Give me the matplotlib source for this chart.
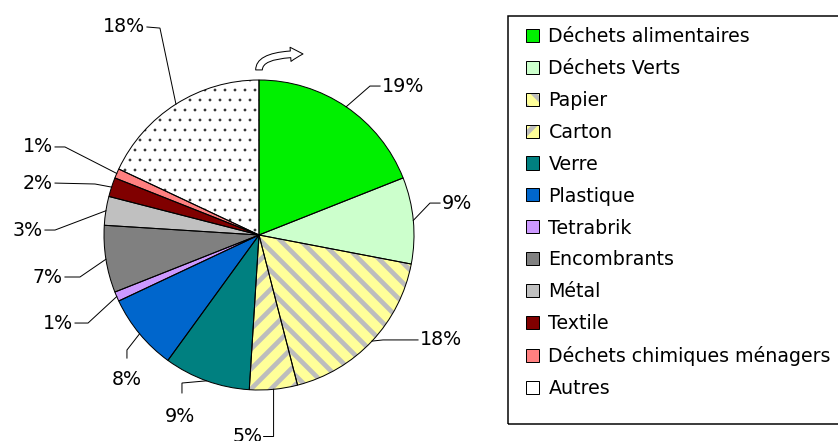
import matplotlib
matplotlib.use("Agg")
import matplotlib.pyplot as plt
import matplotlib.patches as mpatches
import numpy as np

# waste composition (%), clockwise from 12 o'clock
categories = ["Déchets alimentaires", "Déchets Verts", "Papier", "Carton", "Verre",
              "Plastique", "Tetrabrik", "Encombrants", "Métal", "Textile",
              "Déchets chimiques ménagers", "Autres"]
shares = [19, 9, 18, 5, 9, 8, 1, 7, 3, 2, 1, 18]
pct_labels = ["%d%%" % v for v in shares]

fills = ["#00f000", "#ccffcc", "#ffff99", "#ffff99", "#008080", "#0066cc",
         "#cc99ff", "#808080", "#c0c0c0", "#800000", "#ff8080", "#ffffff"]
hatches = [None, None, "\\", "/", None, None, None, None, None, None, None, "."]
hatch_cols = [None, None, "#bdbdbd", "#bdbdbd", None, None, None, None, None, None, None, "#2a2a2a"]
hatch_lws = [None, None, 5.6, 5.6, None, None, None, None, None, None, None, 0.9]

# leader line layout in pie-radius units: (elbow, line end, text pos, ha)
label_layout = [
  ((0.716, 0.961), (0.781, 0.961), (0.79, 0.961), "left"),
  ((1.103, 0.206), (1.168, 0.206), (1.18, 0.206), "left"),
  ((0.80, -0.677), (1.026, -0.677), (1.04, -0.677), "left"),
  ((0.094, -1.30), (0.03, -1.30), (0.02, -1.30), "right"),
  ((-0.497, -0.955), (-0.497, -1.019), (-0.51, -1.174), "center"),
  ((-0.852, -0.742), (-0.852, -0.794), (-0.852, -0.935), "center"),
  ((-1.103, -0.568), (-1.187, -0.568), (-1.20, -0.568), "right"),
  ((-1.155, -0.271), (-1.252, -0.271), (-1.265, -0.271), "right"),
  ((-1.316, 0.032), (-1.381, 0.032), (-1.395, 0.032), "right"),
  ((-1.058, 0.329), (-1.316, 0.335), (-1.33, 0.335), "right"),
  ((-1.252, 0.568), (-1.316, 0.568), (-1.33, 0.568), "right"),
  ((-0.639, 1.335), (-0.723, 1.342), (-0.737, 1.342), "right"),
]

DPI = 60
W, H = 838, 441
CX, CY, R = 259, 235, 155   # pie centre / radius in pixels

plt.rcParams["font.family"] = "DejaVu Sans"
plt.rcParams["hatch.linewidth"] = 5.6

fig = plt.figure(figsize=(W / DPI, H / DPI), dpi=DPI)
ax = fig.add_axes([0, 0, 1, 1])

wedges, _ = ax.pie(shares, colors=fills, startangle=90, counterclock=False,
                   wedgeprops=dict(linewidth=0))
for w, h, hc, hlw in zip(wedges, hatches, hatch_cols, hatch_lws):
  if h is not None:
    w.set_edgecolor(hc)
    w.set_hatch(h)
    if hasattr(w, "set_hatch_linewidth"):
      w.set_hatch_linewidth(hlw)
ax.pie(shares, startangle=90, counterclock=False,
       wedgeprops=dict(fill=False, edgecolor="black", linewidth=1.2))

# percentage labels with elbow leader lines
total = float(sum(shares))
cum = 0.0
for v, txt, (elb, end, tpos, ha) in zip(shares, pct_labels, label_layout):
  theta = np.deg2rad(90 - 360 * (cum + v / 2.0) / total)
  cum += v
  ax.plot([np.cos(theta), elb[0], end[0]], [np.sin(theta), elb[1], end[1]],
          color="black", lw=1.2, solid_joinstyle="miter")
  ax.text(tpos[0], tpos[1], txt, ha=ha, va="center", fontsize=22.8)

# rotation direction arrow above the pie
arr = mpatches.FancyArrowPatch((0.0, 1.065), (0.284, 1.168),
                               connectionstyle="angle3,angleA=90,angleB=0",
                               arrowstyle="simple,head_length=15,head_width=17,tail_width=8",
                               mutation_scale=1, shrinkA=0, shrinkB=0,
                               facecolor="white", edgecolor="black", lw=1.2)
ax.add_patch(arr)

ax.set_xlim(-CX / R, (W - CX) / R)
ax.set_ylim((CY - H) / R, CY / R)
ax.set_aspect("auto")
ax.axis("off")

# legend (plain square for "Autres", striped ones for paper / cardboard)
handles = []
for f, h, hc in zip(fills, hatches, hatch_cols):
  if h is None or h == ".":
    handles.append(mpatches.Patch(facecolor=f, edgecolor="black", lw=1.2))
  else:
    handles.append((mpatches.Patch(facecolor=f, edgecolor=hc, hatch=h, lw=0),
                    mpatches.Patch(fill=False, edgecolor="black", lw=1.2)))
ax.legend(handles, categories, loc="upper left",
          bbox_to_anchor=(526 / W, 1 - 27 / H), bbox_transform=fig.transFigure,
          frameon=False, borderpad=0, borderaxespad=0, fontsize=22.8,
          handlelength=0.68, handleheight=0.68, handletextpad=0.5,
          labelspacing=0.68)
fig.add_artist(mpatches.Rectangle((508 / W, 1 - 424 / H), (870 - 508) / W, (424 - 16) / H,
                                  transform=fig.transFigure, fill=False,
                                  edgecolor="black", lw=1.8))

fig.savefig("out.png", dpi=DPI)
